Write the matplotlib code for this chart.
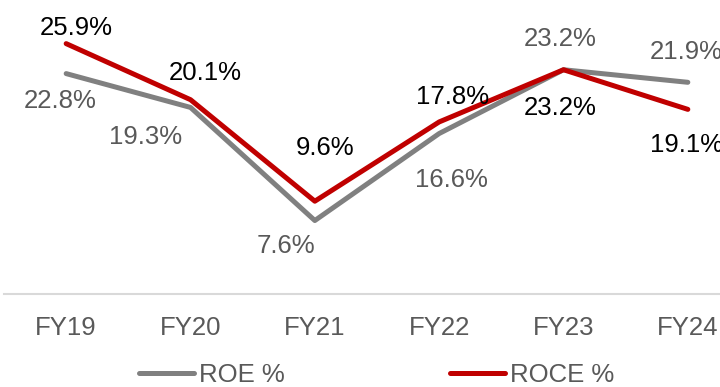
import matplotlib
matplotlib.use("Agg")
import matplotlib.pyplot as plt

plt.rcParams['font.family'] = ['Liberation Sans', 'DejaVu Sans']

years = ["FY19", "FY20", "FY21", "FY22", "FY23", "FY24"]
roe = [22.8, 19.3, 7.6, 16.6, 23.2, 21.9]
roce = [25.9, 20.1, 9.6, 17.8, 23.2, 19.1]

# label offsets in pixels (dx, dy) relative to each point
roe_offsets = [(-6, -27), (-45, -30), (-29, -25), (12, -46), (-3, 31), (-2, 30)]
roce_offsets = [(10, 16), (15, 27), (10, 53), (13, 25), (-3, -38), (-1, -36)]

GRAY = "#808080"
RED = "#C00000"
TXT_GRAY = "#595959"
FS = 18.5

fig = plt.figure(figsize=(7.2, 3.87), dpi=100)
ax = fig.add_axes([4 / 720, 93 / 387, 746 / 720, 290 / 387])

x = list(range(len(years)))
ax.plot(x, roe, color=GRAY, lw=3.6, solid_capstyle="round", label="ROE %")
ax.plot(x, roce, color=RED, lw=3.6, solid_capstyle="round", label="ROCE %")

for i, v in enumerate(roe):
    ax.annotate(f"{v:.1f}%", (i, v), xytext=roe_offsets[i], textcoords="offset pixels",
                ha="center", va="center", fontsize=FS, color=TXT_GRAY)
for i, v in enumerate(roce):
    ax.annotate(f"{v:.1f}%", (i, v), xytext=roce_offsets[i], textcoords="offset pixels",
                ha="center", va="center", fontsize=FS, color="black")

ax.set_xlim(-0.5, len(years) - 0.5)
ax.set_ylim(0, 30)
ax.set_xticks(x)
ax.set_xticklabels(years, fontsize=FS, color=TXT_GRAY)
ax.tick_params(axis="x", length=0, pad=16)
ax.set_yticks([])
for side in ["top", "right", "left"]:
    ax.spines[side].set_visible(False)
ax.spines["bottom"].set_color("#D9D9D9")
ax.spines["bottom"].set_linewidth(1.5)

fig.legend(loc="center left", bbox_to_anchor=(139 / 720, 12 / 387), ncol=2, frameon=False,
           fontsize=FS, handlelength=2.15, handletextpad=0.2, columnspacing=6.4,
           borderpad=0, borderaxespad=0, labelcolor=TXT_GRAY)

fig.savefig("out.png", dpi=100)
